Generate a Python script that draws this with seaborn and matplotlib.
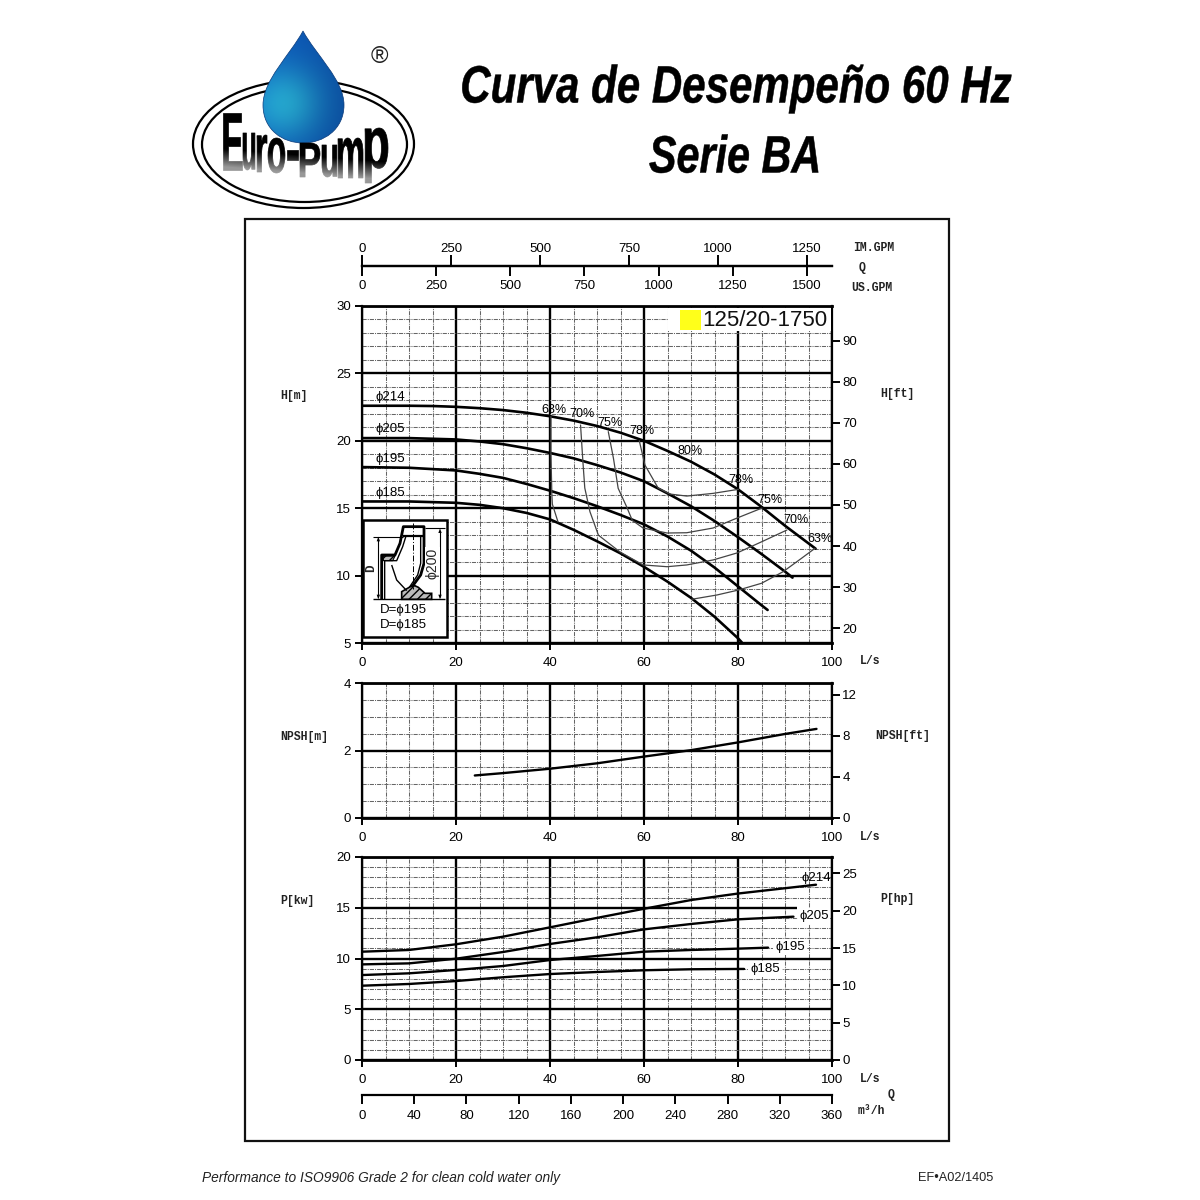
import numpy as np
import matplotlib
matplotlib.use("Agg")
from matplotlib import pyplot as plt
from matplotlib import patheffects as pe
from matplotlib.font_manager import FontProperties
from matplotlib.patches import Ellipse, PathPatch, Polygon, Rectangle
from matplotlib.path import Path
from matplotlib.textpath import TextPath
from matplotlib.transforms import Affine2D
import seaborn as sns

# H curves, L/s and m
q_214 = [0, 5, 10, 15, 20, 25, 30, 35, 40, 45, 50, 55, 60, 65, 70, 75, 80, 85, 90, 96.5]
h_214 = [22.6, 22.6, 22.6, 22.58, 22.52, 22.42, 22.28, 22.08, 21.82, 21.5, 21.1, 20.6, 20.0, 19.25,
         18.45, 17.5, 16.4, 15.1, 13.7, 12.0]
q_205 = [0, 10, 20, 25, 30, 35, 40, 45, 50, 55, 60, 65, 70, 75, 80, 85, 90, 91.6]
h_205 = [20.2, 20.2, 20.1, 19.95, 19.75, 19.45, 19.1, 18.7, 18.2, 17.65, 17.0, 16.1, 15.15, 14.05,
         12.85, 11.6, 10.3, 9.85]
q_195 = [0, 10, 20, 25, 30, 35, 40, 45, 50, 55, 60, 65, 70, 75, 80, 85, 86.3]
h_195 = [18.05, 18.0, 17.8, 17.55, 17.25, 16.8, 16.3, 15.75, 15.15, 14.5, 13.8, 12.9, 11.85, 10.6,
         9.2, 7.8, 7.45]
q_185 = [0, 10, 20, 25, 30, 35, 40, 45, 50, 55, 60, 65, 70, 75, 80, 80.8]
h_185 = [15.5, 15.5, 15.4, 15.25, 15.0, 14.65, 14.17, 13.4, 12.55, 11.65, 10.65, 9.55, 8.35, 6.95,
         5.35, 5.05]

# efficiency lines
q_63a = [40.2, 40.2, 40.4, 40.5, 41.7]
h_63a = [21.8, 19.0, 16.0, 15.3, 13.98]
q_63b = [70.1, 75.5, 80.1, 85, 89.6, 93.5, 96.4]
h_63b = [8.24, 8.56, 8.93, 9.43, 10.29, 11.28, 12.03]
q_70 = [46.5, 47, 47.4, 48.5, 50.3, 54.9, 59.8, 64.9, 69.1, 74.7, 79.8, 85.1, 90.4]
h_70 = [21.17, 18.45, 16.5, 14.74, 13.0, 11.75, 10.79, 10.66, 10.79, 11.16, 11.68, 12.52, 13.38]
q_75 = [52.4, 53.5, 54.5, 56.3, 57.5, 59.8, 64.9, 69.1, 74.7, 79.8, 85.1]
h_75 = [20.68, 18.7, 16.48, 15.11, 14.1, 13.53, 13.16, 13.18, 13.53, 14.27, 15.01]
q_78 = [59, 60.2, 63, 65.5, 69.1, 74.7, 80.1]
h_78 = [20.0, 18.2, 16.5, 16.05, 15.9, 16.1, 16.4]

q_npsh = [24, 30, 40, 50, 60, 70, 80, 90, 96.7]
npsh = [1.26, 1.33, 1.46, 1.62, 1.82, 2.01, 2.24, 2.49, 2.64]

q_p = [0, 10, 20, 30, 40, 50, 60, 70, 80]
p_214 = [10.67, 10.84, 11.4, 12.15, 13.07, 14.0, 14.9, 15.76, 16.4, 17.27]
p_205 = [9.42, 9.52, 9.98, 10.64, 11.43, 12.09, 12.87, 13.4, 13.86, 14.12]
p_195 = [8.37, 8.54, 8.87, 9.26, 9.85, 10.25, 10.67, 10.84, 10.97, 11.07]
p_185 = [7.32, 7.49, 7.78, 8.15, 8.47, 8.67, 8.84, 8.94, 8.97, 8.97]
q_end_p = [96.6, 91.8, 86.4, 81.3]

q_ticks = [0, 20, 40, 60, 80, 100]
im_gpm_ticks = [0, 250, 500, 750, 1000, 1250]
us_gpm_ticks = [0, 250, 500, 750, 1000, 1250, 1500]
m3h_ticks = [0, 40, 80, 120, 160, 200, 240, 280, 320, 360]
h_ft_ticks = [20, 30, 40, 50, 60, 70, 80, 90]
npsh_ft_ticks = [0, 4, 8, 12]
p_hp_ticks = [0, 5, 10, 15, 20, 25]

sns.set_theme(style="white")
plt.rcParams['font.family'] = ['Liberation Sans', 'DejaVu Sans']
plt.rcParams['axes.linewidth'] = 1.6
MONO = ['Liberation Mono', 'DejaVu Sans Mono']
fig = plt.figure(figsize=(12, 12), dpi=100, facecolor='white')


def px_axes(x0, y0, x1, y1, **kw):
    return fig.add_axes([x0 / 1200, 1 - y1 / 1200, (x1 - x0) / 1200, (y1 - y0) / 1200], **kw)


class Warp(pe.AbstractPathEffect):
    # reshape a text in display pixels, lw thickens the strokes
    def __init__(self, t, lw=0.0):
        super().__init__()
        self.t = t
        self.lw = lw

    def draw_path(self, renderer, gc, tpath, affine, rgbFace=None):
        gc0 = renderer.new_gc()
        gc0.copy_properties(gc)
        gc0.set_linewidth(self.lw)
        gc0.set_foreground('black')
        renderer.draw_path(gc0, tpath, affine + self.t, rgbFace)
        gc0.restore()


def panel(y0, y1, ylim, minor, yticks, ft_lim, ft_ticks):
    ax = px_axes(362, y0, 832, y1)
    ax.set_xlim(0, 100)
    ax.set_ylim(*ylim)
    ax.set_xticks(q_ticks)
    ax.set_xticks(np.arange(0, 101, 5), minor=True)
    ax.set_yticks(yticks)
    ax.set_yticks(minor, minor=True)
    ax.grid(True, which='major', color='black', lw=1.7)
    ax.grid(True, which='minor', color='#666666', lw=0.75, ls=(0, (4, 1, 1, 1)))
    ax.set_axisbelow(True)
    ax.tick_params(axis='both', which='major', direction='out', length=5, width=1.4,
                   color='black', labelsize=9.5, labelcolor='black',
                   bottom=True, left=True)
    ax.tick_params(axis='x', which='major', pad=5)
    ax.tick_params(axis='y', which='major', pad=3)
    ax.tick_params(axis='both', which='minor', length=0)
    for s in ax.spines.values():
        s.set_color('black')
    ax.spines['top'].set_linewidth(2.0)
    ax.spines['bottom'].set_linewidth(2.0)
    tw = ax.twinx()
    tw.set_ylim(*ft_lim)
    tw.set_yticks(ft_ticks)
    tw.grid(False)
    tw.tick_params(axis='y', direction='out', length=6, width=1.4, color='black',
                   labelsize=9.5, labelcolor='black', pad=1.5, right=True)
    for s in tw.spines.values():
        s.set_visible(False)
    return ax


def curve(ax, x, y, lw=1.9, color='black'):
    sns.lineplot(x=x, y=y, ax=ax, color=color, lw=lw, sort=False, estimator=None, legend=False)
    ax.set_xlabel('')
    ax.set_ylabel('')


ax_h = panel(306, 643, (5, 30), np.arange(5, 31, 1), [5, 10, 15, 20, 25, 30],
             (5 * 3.281, 30 * 3.281), h_ft_ticks)
for x, y in [(q_214, h_214), (q_205, h_205), (q_195, h_195), (q_185, h_185)]:
    curve(ax_h, x, y)
for x, y in [(q_63a, h_63a), (q_63b, h_63b), (q_70, h_70), (q_75, h_75), (q_78, h_78)]:
    curve(ax_h, x, y, lw=0.9, color='#444444')

ax_n = panel(683, 818, (0, 4), np.arange(0, 4.01, 0.5), [0, 2, 4],
             (0, 4 * 3.281), npsh_ft_ticks)
curve(ax_n, q_npsh, npsh, lw=1.7)

ax_p = panel(857, 1060, (0, 20), np.arange(0, 21, 1), [0, 5, 10, 15, 20],
             (0, 20 / 0.735), p_hp_ticks)
for vals, end in zip([p_214, p_205, p_195, p_185], q_end_p):
    curve(ax_p, q_p + [end], vals, lw=1.7)

# the 15 kW rule stops short of the frame in the original
ax_p.yaxis.get_gridlines()[3].set_visible(False)
ax_p.hlines(15, 0, 92.5, color='black', lw=1.7, zorder=1.5)

# flow scales above and below the chart
ax_im = px_axes(362, 265, 832, 266, facecolor='none')
ax_us = px_axes(362, 265, 832, 266, facecolor='none')
ax_im.set_xlim(0, 100 * 13.2)
ax_us.set_xlim(0, 100 * 15.85)
ax_im.set_xticks(im_gpm_ticks)
ax_us.set_xticks(us_gpm_ticks)
ax_im.tick_params(axis='x', top=True, labeltop=True, bottom=False, labelbottom=False,
                  length=7, width=1.4, color='black', labelsize=9.5, labelcolor='black', pad=0)
ax_us.tick_params(axis='x', length=7, width=1.4, bottom=True, color='black',
                  labelsize=9.5, labelcolor='black', pad=3)
ax_m = px_axes(362, 1094, 832, 1095, facecolor='none')
ax_m.set_xlim(0, 360)
ax_m.set_xticks(m3h_ticks)
ax_m.tick_params(axis='x', length=6.5, width=1.4, bottom=True, color='black',
                 labelsize=9.5, labelcolor='black', pad=4)
for a in (ax_im, ax_us, ax_m):
    a.set_yticks([])
    for name, s in a.spines.items():
        s.set_visible(name == 'bottom')
        s.set_color('black')
        s.set_linewidth(1.6)

# everything else sits on an overlay in image pixels
ov = fig.add_axes([0, 0, 1, 1], facecolor='none', zorder=10)
ov.set_xlim(0, 1200)
ov.set_ylim(1200, 0)
ov.axis('off')

ov.add_patch(Rectangle((245, 219), 704, 922, fill=False, ec='#111111', lw=1.6))

for s, x, y in [('IM.GPM', 853, 248), ('Q', 859, 268), ('US.GPM', 851, 288),
                ('L/s', 860, 661), ('L/s', 860, 837), ('L/s', 860, 1079),
                ('Q', 888, 1095), ('m³/h', 858, 1111),
                ('H[m]', 280, 396), ('H[ft]', 880, 394),
                ('NPSH[m]', 280, 737), ('NPSH[ft]', 875, 736),
                ('P[kw]', 280, 901), ('P[hp]', 880, 899)]:
    ov.text(x, y, s, family=MONO, fontsize=8.3, weight='bold', color='#222222', ha='left', va='center')

# curve labels
lab = ['Liberation Sans', 'DejaVu Sans']
for s, x, y in [('ϕ214', 390, 397), ('ϕ205', 390, 429), ('ϕ195', 390, 459), ('ϕ185', 390, 493)]:
    ov.text(x, y, s, family=lab, fontsize=9.5, color='black', ha='center', va='center')
for s, x, y in [('63%', 554, 410), ('70%', 582, 414), ('75%', 610, 423), ('78%', 642, 431),
                ('80%', 690, 451), ('78%', 741, 480), ('75%', 770, 500), ('70%', 796, 520), ('63%', 820, 539)]:
    ov.text(x, y, s, family=lab, fontsize=9, color='black', ha='center', va='center')
ov.text(816, 878, 'ϕ214', family=lab, fontsize=9.5, color='black', ha='center', va='center')
for s, x, y in [('ϕ205', 814, 916), ('ϕ195', 790, 947), ('ϕ185', 765, 969)]:
    ov.text(x, y, s, family=lab, fontsize=9.5, color='black', ha='center', va='center',
            bbox=dict(fc='white', ec='none', pad=1.2))

# model tag
ov.add_patch(Rectangle((668, 308), 163, 23, fc='white', ec='none'))
ov.add_patch(Rectangle((680, 310), 21, 20, fc='#ffff1a', ec='none'))
ov.text(702, 320, '125/20-1750', fontsize=16, color='#111111', ha='left', va='center')

# impeller inset
ov.add_patch(Rectangle((362.7, 520), 84, 116.7, fc='white', ec='black', lw=1.8))
z = lambda zx, zy: (350 + zx / 3, 500 + zy / 3)


def zline(pts, lw=1.0, ls='-'):
    xs, ys = zip(*[z(*p) for p in pts])
    ov.plot(xs, ys, color='black', lw=lw, ls=ls, solid_capstyle='butt')


zline([(95, 298), (95, 165), (135, 165), (150, 130), (160, 80), (222, 80), (222, 190), (212, 225), (185, 262)], 2)
zline([(104, 298), (104, 182), (140, 182), (158, 140), (168, 108), (215, 108)], 1)
zline([(160, 108), (222, 108)], 1.6)
zline([(125, 195), (140, 240), (170, 272)], 1)
zline([(212, 110), (212, 190), (203, 225), (178, 262)], 1)
zline([(188, 70), (188, 268)], 0.7, (0, (6, 2, 1, 2)))
zline([(70, 110), (160, 110)], 0.8)
zline([(70, 298), (285, 298)], 1)
zline([(225, 85), (285, 85)], 0.8)
zline([(85, 118), (85, 290)], 0.8)
zline([(270, 92), (270, 290)], 0.8)
for pts in [[(85, 110), (80, 124), (90, 124)], [(85, 298), (80, 284), (90, 284)],
            [(270, 85), (265, 99), (275, 99)], [(270, 298), (265, 284), (275, 284)]]:
    ov.add_patch(Polygon([z(*p) for p in pts], fc='black', ec='none'))
ov.add_patch(Polygon([z(*p) for p in [(155, 298), (155, 275), (190, 255), (205, 262), (225, 280),
                                      (245, 280), (245, 298)]],
                     fc='#bbbbbb', ec='black', lw=1.2, hatch='////'))
ov.add_patch(Polygon([z(*p) for p in [(100, 168), (135, 168), (128, 182), (100, 182)]],
                     fc='#bbbbbb', ec='black', lw=0.8, hatch='////'))
ov.text(*z(62, 205), 'D', family=MONO, fontsize=9, weight='bold', rotation=90, ha='center', va='center')
ov.text(*z(248, 190), 'ϕ200', family=lab, fontsize=10, rotation=90, ha='center', va='center',
        bbox=dict(fc='white', ec='none', pad=0.5))
ov.text(*z(160, 330), 'D=ϕ195', family=lab, fontsize=9.5, color='black', ha='center', va='center')
ov.text(*z(160, 375), 'D=ϕ185', family=lab, fontsize=9.5, color='black', ha='center', va='center')


# title
def disp(x, y):
    return ov.transData.transform((x, y))


for s, cx, cy, sx in [('Curva de Desempeño 60 Hz', 736, 89, 0.865), ('Serie BA', 735, 159, 0.85)]:
    dx, dy = disp(cx, cy)
    t = ov.text(cx, cy, s, fontsize=35, weight='bold', style='italic', color='black', ha='center', va='center')
    t.set_path_effects([Warp(Affine2D().translate(-dx, -dy).scale(sx, 1.08).translate(dx, dy), lw=0.35)])

# footer
ov.text(202, 1178, 'Performance to ISO9906 Grade 2 for clean cold water only', fontsize=9.9, style='italic',
        color='#222222', ha='left', va='center')
ov.text(918, 1178, 'EF•A02/1405', fontsize=9.2, color='#222222', ha='left', va='center')

# logo
ov.add_patch(Ellipse((303.5, 144), 221, 128, fc='white', ec='black', lw=1.6))
ov.add_patch(Ellipse((304.5, 144.5), 205, 115, fc='white', ec='black', lw=1.6))
ov.text(379, 57, '®', fontsize=17, color='#222222', ha='center', va='center')

drop = Path([(303, 31), (290, 55), (263, 80), (263, 105), (263, 130), (283, 143), (303, 143),
             (323, 143), (344, 130), (344, 105), (344, 80), (316, 55), (303, 31), (303, 31)],
            [Path.MOVETO, Path.CURVE4, Path.CURVE4, Path.CURVE4, Path.CURVE4, Path.CURVE4, Path.CURVE4,
             Path.CURVE4, Path.CURVE4, Path.CURVE4, Path.CURVE4, Path.CURVE4, Path.CURVE4, Path.CLOSEPOLY])
gy, gx = np.mgrid[31:144, 262:346]
glow = np.exp(-((gx - 285) ** 2 + (gy - 103) ** 2) / 1400.0)
shade = np.clip((gx - 263) / 81.0 * 0.5 + (gy - 31) / 113.0 * 0.1, 0, 1)
base = np.array([0.05, 0.36, 0.75])
bright = np.array([0.15, 0.68, 0.85])
rgb = base[None, None, :] * (1 - glow[..., None]) + bright[None, None, :] * glow[..., None]
rgb = rgb * (1 - 0.3 * shade[..., None])
im = ov.imshow(rgb, extent=(262, 346, 144, 31), aspect='auto', zorder=3, interpolation='bilinear')
im.set_clip_path(PathPatch(drop, transform=ov.transData))
ov.add_patch(PathPatch(drop, fc='none', ec='#0a3a7a', lw=0.5, zorder=3.1))

# letter boxes of the wordmark: left, top, right, bottom
letters = [('E', 223, 113, 242, 170), ('u', 243, 133, 255, 170), ('r', 257, 135, 267, 172),
           ('o', 268, 138, 285, 173), ('-', 287, 150, 298, 160), ('P', 300, 143, 320, 177),
           ('u', 322, 145, 337, 177), ('m', 338, 138, 363, 178), ('p', 365, 128, 388, 183)]
logo_font = FontProperties(family='Liberation Sans', weight='bold')
for c, x0, y0, x1, y1 in letters:
    ext = TextPath((0, 0), c, size=10 * 100 / 72, prop=logo_font).get_extents()
    ax_, ay_ = disp(x0, y1)
    bx, by = disp(x1, y0)
    warp = (Affine2D().translate(-(ax_ + ext.x0), -(ay_ + ext.y0))
            .scale((bx - ax_) / ext.width, (by - ay_) / ext.height).translate(ax_, ay_))
    t = ov.text(x0, y1, c, fontsize=10, weight='bold', color='black', ha='left', va='baseline', zorder=4)
    t.set_path_effects([Warp(warp, lw=0.5)])

# letters fade towards the bottom
fy, fx = np.mgrid[125:190, 215:395]
fade = np.zeros(fy.shape + (4,))
fade[..., :3] = 1.0
inside = ((fx - 304.5) / 100.0) ** 2 + ((fy - 144.5) / 55.0) ** 2 < 1
fade[..., 3] = np.clip((fy - 148 - (fx - 220) * 0.08) / 30.0, 0, 0.6) * inside
ov.imshow(fade, extent=(215, 395, 190, 125), aspect='auto', zorder=5)
ov.set_xlim(0, 1200)
ov.set_ylim(1200, 0)

fig.savefig('out.png', dpi=100)
